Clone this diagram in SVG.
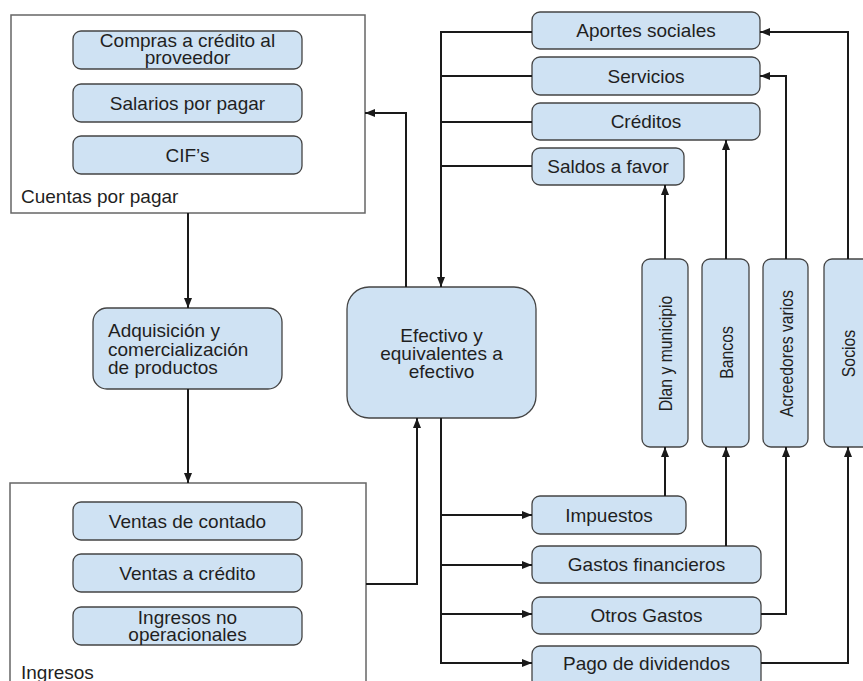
<svg xmlns="http://www.w3.org/2000/svg" width="863" height="681" viewBox="0 0 863 681">
  <style>
    .box { fill: #cfe2f3; stroke: #444444; stroke-width: 1.3; }
    .frame { fill: #ffffff; stroke: #666666; stroke-width: 1.5; }
    .lbl { font-family: "Liberation Sans", Arial, sans-serif; font-size: 19px; fill: #1f1f1f; text-anchor: middle; }
    .lft { text-anchor: start; }
    .vt { font-size: 19px; }
    .wire { fill: none; stroke: #1a1a1a; stroke-width: 2; }
  </style>
  <defs>
    <marker id="arrow" viewBox="0 0 10 8" refX="10" refY="4" markerWidth="10" markerHeight="8" markerUnits="userSpaceOnUse" orient="auto">
      <path d="M0,0 L10,4 L0,8 z" fill="#1a1a1a"/>
    </marker>
  </defs>
  <rect width="863" height="681" fill="#ffffff"/>

  <!-- Cuentas por pagar -->
  <g id="cuentas-por-pagar">
    <rect class="frame" x="11" y="15" width="354" height="198"/>
    <text class="lbl lft" x="21" y="203">Cuentas por pagar</text>
  </g>
  <g id="compras-credito">
    <rect class="box" x="73" y="31" width="229" height="38" rx="8"/>
    <text class="lbl" x="187.5" y="47">Compras a crédito al</text>
    <text class="lbl" x="187.5" y="64">proveedor</text>
  </g>
  <g id="salarios">
    <rect class="box" x="73" y="84" width="229" height="38" rx="8"/>
    <text class="lbl" x="187.5" y="109.5">Salarios por pagar</text>
  </g>
  <g id="cifs">
    <rect class="box" x="73" y="136" width="229" height="38" rx="8"/>
    <text class="lbl" x="187.5" y="161.5">CIF’s</text>
  </g>

  <!-- Adquisición -->
  <g id="adquisicion">
    <rect class="box" x="93" y="308" width="189" height="81" rx="14"/>
    <text class="lbl lft" x="108" y="337">Adquisición y</text>
    <text class="lbl lft" x="108" y="356">comercialización</text>
    <text class="lbl lft" x="108" y="374">de productos</text>
  </g>

  <!-- Ingresos -->
  <g id="ingresos">
    <rect class="frame" x="10" y="483" width="356" height="215"/>
    <text class="lbl lft" x="21" y="679">Ingresos</text>
  </g>
  <g id="ventas-contado">
    <rect class="box" x="73" y="502" width="229" height="38" rx="8"/>
    <text class="lbl" x="187.5" y="527.5">Ventas de contado</text>
  </g>
  <g id="ventas-credito">
    <rect class="box" x="73" y="554" width="229" height="38" rx="8"/>
    <text class="lbl" x="187.5" y="579.5">Ventas a crédito</text>
  </g>
  <g id="ingresos-no-op">
    <rect class="box" x="73" y="607" width="229" height="38" rx="8"/>
    <text class="lbl" x="187.5" y="624">Ingresos no</text>
    <text class="lbl" x="187.5" y="641">operacionales</text>
  </g>

  <!-- Efectivo -->
  <g id="efectivo">
    <rect class="box" x="347" y="287" width="189" height="131" rx="22"/>
    <text class="lbl" x="441.5" y="342">Efectivo y</text>
    <text class="lbl" x="441.5" y="360">equivalentes a</text>
    <text class="lbl" x="441.5" y="378">efectivo</text>
  </g>

  <!-- Fuentes -->
  <g id="aportes">
    <rect class="box" x="532" y="12" width="228" height="37" rx="8"/>
    <text class="lbl" x="646" y="37">Aportes sociales</text>
  </g>
  <g id="servicios">
    <rect class="box" x="532" y="57" width="228" height="38" rx="8"/>
    <text class="lbl" x="646" y="82.5">Servicios</text>
  </g>
  <g id="creditos">
    <rect class="box" x="532" y="103" width="228" height="37" rx="8"/>
    <text class="lbl" x="646" y="128">Créditos</text>
  </g>
  <g id="saldos">
    <rect class="box" x="532" y="148" width="152" height="37" rx="8"/>
    <text class="lbl" x="608" y="173">Saldos a favor</text>
  </g>

  <!-- Terceros -->
  <g id="dlan">
    <rect class="box" x="642" y="259" width="46" height="188" rx="8"/>
    <text class="lbl vt" transform="translate(665,353.5) rotate(-90) scale(0.83,1)" x="0" y="7">Dlan y municipio</text>
  </g>
  <g id="bancos">
    <rect class="box" x="702" y="259" width="47" height="188" rx="8"/>
    <text class="lbl vt" transform="translate(725.5,352.5) rotate(-90) scale(0.83,1)" x="0" y="7">Bancos</text>
  </g>
  <g id="acreedores">
    <rect class="box" x="763" y="259" width="45" height="188" rx="8"/>
    <text class="lbl vt" transform="translate(785.5,353.5) rotate(-90) scale(0.83,1)" x="0" y="7">Acreedores varios</text>
  </g>
  <g id="socios">
    <rect class="box" x="824" y="259" width="50" height="188" rx="8"/>
    <text class="lbl vt" transform="translate(848,353.5) rotate(-90) scale(0.83,1)" x="0" y="7">Socios</text>
  </g>

  <!-- Usos -->
  <g id="impuestos">
    <rect class="box" x="532" y="496" width="154" height="38" rx="8"/>
    <text class="lbl" x="609" y="521.5">Impuestos</text>
  </g>
  <g id="gastos-financieros">
    <rect class="box" x="532" y="546" width="229" height="37" rx="8"/>
    <text class="lbl" x="646.5" y="571">Gastos financieros</text>
  </g>
  <g id="otros-gastos">
    <rect class="box" x="532" y="597" width="229" height="37" rx="8"/>
    <text class="lbl" x="646.5" y="622">Otros Gastos</text>
  </g>
  <g id="dividendos">
    <rect class="box" x="532" y="646" width="229" height="42" rx="8"/>
    <text class="lbl" x="646.5" y="670">Pago de dividendos</text>
  </g>

  <!-- Connectors -->
  <g id="connectors">
    <path class="wire" d="M188,213 V308" marker-end="url(#arrow)"/>
    <path class="wire" d="M188,389 V483" marker-end="url(#arrow)"/>
    <path class="wire" d="M366,584 H417 V418" marker-end="url(#arrow)"/>
    <path class="wire" d="M406,287 V113 H365" marker-end="url(#arrow)"/>

    <path class="wire" d="M532,32 H441"/>
    <path class="wire" d="M532,76 H441"/>
    <path class="wire" d="M532,122 H441"/>
    <path class="wire" d="M532,166 H441"/>
    <path class="wire" d="M441,31 V287" marker-end="url(#arrow)"/>

    <path class="wire" d="M441,418 V664"/>
    <path class="wire" d="M441,515 H532" marker-end="url(#arrow)"/>
    <path class="wire" d="M441,565 H532" marker-end="url(#arrow)"/>
    <path class="wire" d="M441,614 H532" marker-end="url(#arrow)"/>
    <path class="wire" d="M440,663 H532" marker-end="url(#arrow)"/>

    <path class="wire" d="M665,496 V447" marker-end="url(#arrow)"/>
    <path class="wire" d="M726,546 V447" marker-end="url(#arrow)"/>
    <path class="wire" d="M761,614 H786 V447" marker-end="url(#arrow)"/>
    <path class="wire" d="M761,663 H848 V447" marker-end="url(#arrow)"/>

    <path class="wire" d="M665,259 V185" marker-end="url(#arrow)"/>
    <path class="wire" d="M726,259 V140" marker-end="url(#arrow)"/>
    <path class="wire" d="M786,259 V76 H760" marker-end="url(#arrow)"/>
    <path class="wire" d="M848,259 V32 H760" marker-end="url(#arrow)"/>
  </g>
</svg>
